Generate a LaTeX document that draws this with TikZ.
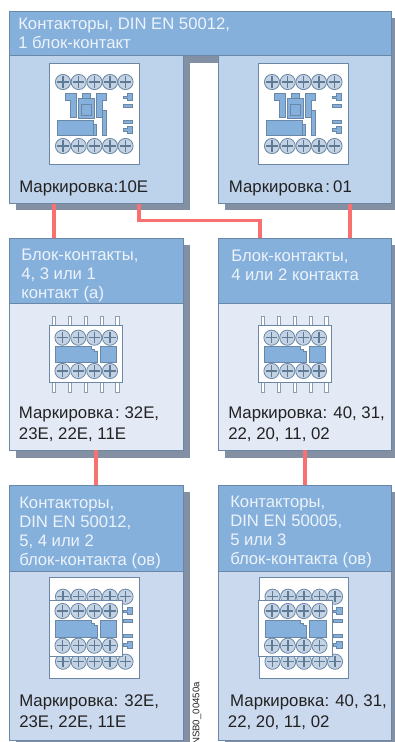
\documentclass[tikz,border=0pt]{standalone}
\usepackage{fontspec}
\setmainfont{Liberation Sans}
\usetikzlibrary{calc}
\definecolor{hdr}{HTML}{85B0DC}
\definecolor{ptop}{HTML}{BDD2EB}
\definecolor{pmid}{HTML}{E3E9F5}
\definecolor{pbot}{HTML}{CBD9EE}
\definecolor{edge}{HTML}{6B87A6}
\definecolor{shade}{HTML}{8390A3}
\definecolor{wire}{HTML}{F87070}
\definecolor{scr}{HTML}{C3D3E3}
\definecolor{scrd}{HTML}{5F7A94}
\definecolor{hdrtxt}{HTML}{EDF3FA}
\definecolor{lbl}{HTML}{222222}
\tikzset{
  x=0.75pt, y=-0.75pt,
  boxsize/.style 2 args={minimum width=#1*0.75pt, minimum height=#2*0.75pt},
  pane/.style={draw=edge, line width=0.75pt, anchor=north west, inner sep=0pt, outer sep=0pt},
  shadowbox/.style={fill=shade, draw=none},
  connector/.style={draw=wire, line width=2.7pt},
  headtext/.style={anchor=north west, inner sep=0pt, align=left, text=hdrtxt, font=\fontsize{12.5pt}{14.25pt}\selectfont},
  marktext/.style={anchor=north west, inner sep=0pt, align=left, text=lbl, font=\fontsize{12.6pt}{15.9pt}\selectfont},
  part/.style={fill=hdr, draw=edge, line width=0.6pt},
  plate/.style={fill=white, draw=edge, line width=0.75pt},
  pin/.style={fill=white, draw=edge!80, line width=0.5pt},
  screwhead/.pic={
    \draw[fill=scr, draw=edge, line width=0.6pt] (0,0) circle (7.6);
    \draw[draw=scrd, line width=1.1pt] (-5.6,0) -- (5.6,0) (0,-5.6) -- (0,5.6);
  }
}
\newcommand{\sideparts}[5]{% y of T1 top, bar1 top, bar2 top, T2 top, dx
  \begin{scope}[shift={(#5,0)}]
  \draw[part] (127.3,#1) -- (132.7,#1) -- (132.7,#1+7) -- (127.3,#1+7) -- (127.3,#1+5) -- (123.7,#1+5) -- (123.7,#1+2.4) -- (127.3,#1+2.4) -- cycle;
  \draw[part] (123.7,#2) rectangle (132.7,#2+3.2);
  \draw[part] (123.7,#3) rectangle (132.7,#3+3.2);
  \draw[part] (127.3,#4) -- (132.7,#4) -- (132.7,#4+7.6) -- (127.3,#4+7.6) -- (127.3,#4+5.4) -- (123.7,#4+5.4) -- (123.7,#4+2.6) -- (127.3,#4+2.6) -- cycle;
  \end{scope}
}
\newcommand{\contactor}[1]{%
  \begin{scope}[shift={(#1,0)}]
  \draw[plate] (49.8,63.3) rectangle (139,164);
  \foreach \sx in {63,78.7,94.5,110,125.5} {
    \pic at (\sx,82) {screwhead};
    \pic at (\sx,146) {screwhead};
  }
  \draw[part] (65.7,93.5) -- (76,93.5) -- (76,117.3) -- (70,117.3) -- (70,100) -- (65.7,100) -- cycle;
  \draw[part] (82,93.5) rectangle (90.7,98.7);
  \draw[part] (78.3,98.7) rectangle (94.3,118.3);
  \draw[part] (81,104.3) rectangle (91.7,115);
  \draw[part] (96.5,93.5) -- (106.7,93.5) -- (106.7,100) -- (102.3,100) -- (102.3,117.3) -- (96.5,117.3) -- cycle;
  \draw[part] (102.3,110.7) rectangle (106.7,135);
  \draw[part] (93.7,124) rectangle (96.7,135);
  \draw[part] (57.3,120) rectangle (93.7,135);
  \end{scope}
  \sideparts{93.7}{104.3}{120}{126}{#1}
}
\newcommand{\frontunit}[6]{% dx, top, bottom, screw y1, screw y2, block top
  \begin{scope}[shift={(#1,0)}]
  \draw[plate] (49.3,#2) rectangle (122.7,#3);
  \foreach \sx in {62.5,78.3,94.3,110} {
    \pic at (\sx,#4) {screwhead};
    \pic at (\sx,#5) {screwhead};
  }
  \draw[part] (55.6,#6) -- (91,#6) -- (91,#6+2.8) -- (94.3,#6+2.8) -- (94.3,#6+4.6) -- (97,#6+4.6) -- (97,#6+16.5) -- (55.6,#6+16.5) -- cycle;
  \draw[part] (100.3,#6) rectangle (116.7,#6+16.5);
  \end{scope}
}
\newcommand{\blockunit}[1]{%
  \begin{scope}[shift={(#1,0)}]
  \foreach \sx in {54,70,86,101.7,117.3} {
    \draw[pin] (\sx-1.8,316.2) rectangle (\sx+1.8,326);
    \draw[pin] (\sx-1.8,381) rectangle (\sx+1.8,392);
  }
  \end{scope}
  \frontunit{#1}{325.3}{382}{337.7}{371}{346.3}
}
\newcommand{\stackunit}[1]{%
  \begin{scope}[shift={(#1,0)}]
  \draw[plate] (49.8,577.8) rectangle (139,678.5);
  \foreach \sx in {63,78.7,94.5,110,125.5} {
    \pic at (\sx,596.7) {screwhead};
    \pic at (\sx,661.7) {screwhead};
  }
  \end{scope}
  \sideparts{607.8}{619}{634.3}{641.2}{#1}
  \frontunit{#1}{600}{656}{611}{645.7}{620.5}
}
\begin{document}
\begin{tikzpicture}
\useasboundingbox (0,0) rectangle (395,742);
% shadows
\fill[shadowbox] (16,18) rectangle (398,63);
\fill[shadowbox] (16,63) rectangle (190,210);
\fill[shadowbox] (225,63) rectangle (398,210);
\fill[shadowbox] (16,245) rectangle (190,458);
\fill[shadowbox] (225,245) rectangle (398,458);
\fill[shadowbox] (16,492) rectangle (190,747);
\fill[shadowbox] (225,492) rectangle (398,747);
% panes
\node[pane, fill=ptop, boxsize={173.5}{147.5}] (pa) at (9.5,56) {};
\node[pane, fill=ptop, boxsize={173}{147.5}] (pb) at (218.5,56) {};
\node[pane, fill=hdr, boxsize={382}{44.5}] (ha) at (9.5,11.5) {};
\node[pane, fill=pmid, boxsize={173.5}{147}] (pc) at (9.5,303) {};
\node[pane, fill=hdr, boxsize={173.5}{65}] (hc) at (9.5,238) {};
\node[pane, fill=pmid, boxsize={173}{147}] (pd) at (218.5,303) {};
\node[pane, fill=hdr, boxsize={173}{65}] (hd) at (218.5,238) {};
\node[pane, fill=pbot, boxsize={173.5}{169}] (pe) at (9.5,571) {};
\node[pane, fill=hdr, boxsize={173.5}{86}] (he) at (9.5,485) {};
\node[pane, fill=pbot, boxsize={173}{169}] (pf) at (218.5,571) {};
\node[pane, fill=hdr, boxsize={173}{86}] (hf) at (218.5,485) {};
% connectors
\draw[connector] ($(pa.south west)+(44.5,0)$) -- ($(hc.north west)+(44.5,0)$);
\draw[connector] ($(pa.south west)+(129.5,0)$) -- ++(0,17) -| ($(hd.north west)+(41.5,0)$);
\draw[connector] ($(pb.south west)+(131.5,0)$) -- ($(hd.north west)+(131.5,0)$);
\draw[connector] ($(pc.south west)+(86.5,0)$) -- ($(he.north west)+(86.5,0)$);
\draw[connector] ($(pd.south west)+(86.5,0)$) -- ($(hf.north west)+(86.5,0)$);
% devices
\contactor{0}
\contactor{209}
\blockunit{0}
\blockunit{209}
\stackunit{0}
\stackunit{209.5}
% header texts
\node[headtext] (ta) at (18,18) {Контакторы, DIN EN 50012,\\1 блок-контакт};
\node[headtext] (tc) at (21,248.5) {Блок-контакты,\\4, 3 или 1\\контакт (а)};
\node[headtext] (td) at (231,249.5) {Блок-контакты,\\4 или 2 контакта};
\node[headtext] (te) at (19,496.5) {Контакторы,\\DIN EN 50012,\\5, 4 или 2\\блок-контакта (ов)};
\node[headtext] (tf) at (230,495.5) {Контакторы,\\DIN EN 50005,\\5 или 3\\блок-контакта (ов)};
% marking texts
\node[marktext] (ma) at (19,180.5) {Маркировка:10E};
\node[marktext] (mb) at (228.7,180.5) {Маркировка\kern1.5pt:\kern2.5pt01};
\node[marktext] (mc) at (18.7,406.5) {Маркировка\kern1.5pt:\kern3.5pt32E,\\23E, 22E, 11E};
\node[marktext] (md) at (228,406.5) {Маркировка: 40, 31,\\22, 20, 11, 02};
\node[marktext] (me) at (19,694.5) {Маркировка: 32E,\\23E, 22E, 11E};
\node[marktext] (mf) at (227.7,694.5) {\hspace*{1.7pt}Маркировка: 40, 31,\\22, 20, 11, 02};
% code
\node[rotate=90, anchor=west, inner sep=0pt, text=lbl, font=\fontsize{7.2pt}{8pt}\selectfont] (code) at (197,745) {NSB0\_00450a};
\end{tikzpicture}
\end{document}
